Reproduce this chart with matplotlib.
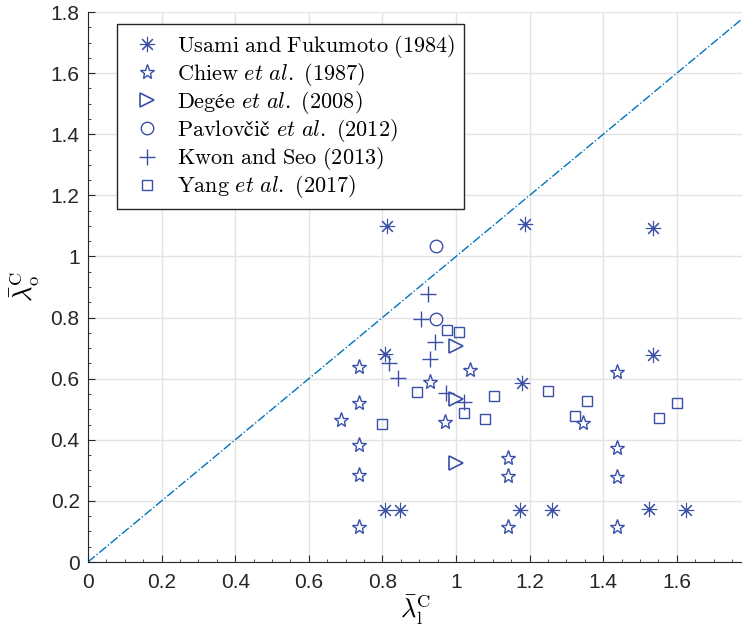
import matplotlib.pyplot as plt
import numpy as np

plt.rcParams['mathtext.fontset'] = 'cm'
plt.rcParams['font.family'] = ['Liberation Sans Narrow', 'Liberation Sans', 'DejaVu Sans']

# Usami and Fukumoto (1984)
usami_x = [0.812, 1.187, 1.535, 0.807, 1.535, 1.179, 0.807, 0.848, 1.174, 1.261, 1.524, 1.625]
usami_y = [1.100, 1.106, 1.093, 0.681, 0.677, 0.586, 0.170, 0.170, 0.170, 0.170, 0.173, 0.170]
# Chiew et al. (1987)
chiew_x = [0.736, 0.736, 0.688, 0.736, 0.736, 0.736, 0.929, 0.970, 1.038, 1.141, 1.141, 1.141,
           1.345, 1.437, 1.437, 1.437, 1.437]
chiew_y = [0.638, 0.520, 0.465, 0.383, 0.285, 0.115, 0.589, 0.458, 0.628, 0.340, 0.281, 0.115,
           0.455, 0.622, 0.373, 0.278, 0.115]
# Degee et al. (2008)
degee_x = [1.0, 1.0, 1.0]
degee_y = [0.707, 0.533, 0.324]
# Pavlovcic et al. (2012)
pavl_x = [0.946, 0.946]
pavl_y = [1.034, 0.795]
# Kwon and Seo (2013)
kwon_x = [0.924, 0.905, 0.943, 0.929, 0.818, 0.842, 0.973, 1.022]
kwon_y = [0.877, 0.795, 0.720, 0.664, 0.651, 0.602, 0.553, 0.524]
# Yang et al. (2017)
yang_x = [0.976, 1.008, 0.894, 0.799, 1.022, 1.079, 1.103, 1.250, 1.356, 1.323, 1.552, 1.601]
yang_y = [0.759, 0.753, 0.556, 0.452, 0.488, 0.468, 0.543, 0.560, 0.527, 0.478, 0.471, 0.520]

labels = [r'$\mathrm{Usami\ and\ Fukumoto\ (1984)}$',
          r'$\mathrm{Chiew}\ \mathit{et\ al.}\ \mathrm{(1987)}$',
          r'$\mathrm{Degée}\ \mathit{et\ al.}\ \mathrm{(2008)}$',
          r'$\mathrm{Pavlovčič}\ \mathit{et\ al.}\ \mathrm{(2012)}$',
          r'$\mathrm{Kwon\ and\ Seo\ (2013)}$',
          r'$\mathrm{Yang}\ \mathit{et\ al.}\ \mathrm{(2017)}$']

mc = '#3A50A8'
fig = plt.figure(figsize=(7.42, 6.30), dpi=100)
ax = fig.add_axes([88/742, 68/630, 654/742, 550/630])

ax.plot([0, 1.8], [0, 1.8], linestyle='-.', color='#0072BD', lw=1.0, zorder=1)

ax.plot(usami_x, usami_y, linestyle='none', marker=(8, 2, 0), ms=11, mec=mc, mew=0.8, label=labels[0])
ax.plot(chiew_x, chiew_y, linestyle='none', marker='*', ms=11, mfc='none', mec=mc, mew=1.0, label=labels[1])
ax.plot(degee_x, degee_y, linestyle='none', marker='>', ms=10, mfc='none', mec=mc, mew=1.2, label=labels[2])
ax.plot(pavl_x, pavl_y, linestyle='none', marker='o', ms=9, mfc='none', mec=mc, mew=1.0, label=labels[3])
ax.plot(kwon_x, kwon_y, linestyle='none', marker='+', ms=11, mec=mc, mew=1.0, label=labels[4])
ax.plot(yang_x, yang_y, linestyle='none', marker='s', ms=7.5, mfc='none', mec=mc, mew=1.0, label=labels[5])

ax.set_xlim(0, 1.777)
ax.set_ylim(0, 1.8)
ax.set_xticks(np.arange(0, 1.61, 0.2))
ax.set_xticklabels(['0', '0.2', '0.4', '0.6', '0.8', '1', '1.2', '1.4', '1.6'])
ax.set_yticks(np.arange(0, 1.81, 0.2))
ax.set_yticklabels(['0', '0.2', '0.4', '0.6', '0.8', '1', '1.2', '1.4', '1.6', '1.8'])
ax.set_xticks(np.arange(0, 1.78, 0.05), minor=True)
ax.set_yticks(np.arange(0, 1.81, 0.05), minor=True)
ax.tick_params(which='both', direction='in', colors='#262626', labelsize=15)
ax.tick_params(which='major', length=5)
ax.tick_params(which='minor', length=2.5)
ax.tick_params(axis='x', which='major', pad=8)
ax.tick_params(axis='y', which='major', pad=6)
ax.grid(True, which='major', color='#e3e3e3', lw=1.0)
ax.set_axisbelow(True)
for s in ['top', 'right']:
    ax.spines[s].set_visible(False)
for s in ['left', 'bottom']:
    ax.spines[s].set_color('#262626')

ax.set_xlabel(r'$\bar{\lambda}_{\rm l}^{\rm C}$', fontsize=19, labelpad=0)
ax.set_ylabel(r'$\bar{\lambda}_{\rm o}^{\rm C}$', fontsize=19, labelpad=6)

leg = ax.legend(loc='upper left', bbox_to_anchor=(29/654, 1 - 12/550), borderaxespad=0, fontsize=16,
                frameon=True, fancybox=False, framealpha=1, edgecolor='#262626',
                handlelength=1.9, handletextpad=0.38, labelspacing=0.05, borderpad=0.4)
leg.get_frame().set_linewidth(1.0)

fig.savefig('out.png', dpi=100)
